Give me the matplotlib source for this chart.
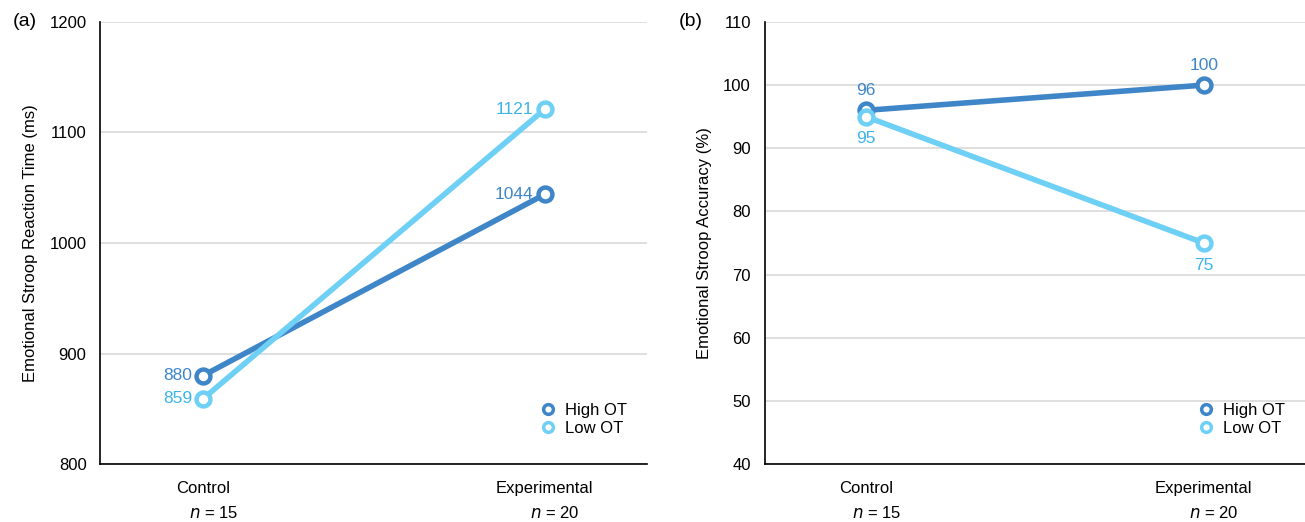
import matplotlib.pyplot as plt

plt.rcParams['font.family'] = ['Liberation Sans', 'DejaVu Sans']
plt.rcParams['font.size'] = 12

groups = ["Control", "Experimental"]
group_n = ["15", "20"]

rt_high = [880, 1044]
rt_low = [859, 1121]
acc_high = [96, 100]
acc_low = [95, 75]

c_high = "#3f86c8"
c_low = "#6fd0f6"

fig = plt.figure(figsize=(13.05, 5.22), dpi=100)
ax1 = fig.add_axes([0.077, 0.111, 0.419, 0.847])
ax2 = fig.add_axes([0.586, 0.111, 0.414, 0.847])


def style(ax, ylo, yhi, step, ylabel, tag):
    ax.set_xlim(-0.3, 1.3)
    ax.set_ylim(ylo, yhi)
    ax.set_yticks(range(ylo, yhi + 1, step))
    ax.set_xticks([0, 1])
    ax.set_xticklabels(groups)
    ax.tick_params(length=0, pad=12)
    ax.tick_params(axis='y', pad=10)
    for s in ["top", "right"]:
        ax.spines[s].set_visible(False)
    for s in ["left", "bottom"]:
        ax.spines[s].set_linewidth(1.2)
    ax.yaxis.grid(True, color="#d9d9d9", linewidth=1.2)
    ax.set_axisbelow(True)
    ax.set_ylabel(ylabel, labelpad=8)
    for i, n in enumerate(group_n):
        ax.text(i + 0.03, -0.11, "$n$ = " + n, transform=ax.get_xaxis_transform(),
                ha="center", va="center")
    ax.text(-0.16, 1.0, tag, transform=ax.transAxes, fontsize=14, ha="left", va="center")


def series(ax, vals, col, label):
    ax.plot([0, 1], vals, color=col, linewidth=4, marker="o", markersize=10,
            markerfacecolor="white", markeredgecolor=col, markeredgewidth=3.2,
            label=label, zorder=3)


series(ax1, rt_high, c_high, "High OT")
series(ax1, rt_low, c_low, "Low OT")
style(ax1, 800, 1200, 100, "Emotional Stroop Reaction Time (ms)", "(a)")
for i in range(2):
    ax1.annotate(str(rt_high[i]), (i, rt_high[i]), xytext=(-8, 0), textcoords="offset points",
                 ha="right", va="center", color=c_high, fontsize=12.5)
    ax1.annotate(str(rt_low[i]), (i, rt_low[i]), xytext=(-8, 0), textcoords="offset points",
                 ha="right", va="center", color="#3cb4ea", fontsize=12.5)

series(ax2, acc_high, c_high, "High OT")
series(ax2, acc_low, c_low, "Low OT")
style(ax2, 40, 110, 10, "Emotional Stroop Accuracy (%)", "(b)")
for i in range(2):
    ax2.annotate(str(acc_high[i]), (i, acc_high[i]), xytext=(0, 14), textcoords="offset points",
                 ha="center", va="center", color=c_high, fontsize=12.5)
    ax2.annotate(str(acc_low[i]), (i, acc_low[i]), xytext=(0, -16), textcoords="offset points",
                 ha="center", va="center", color="#3cb4ea", fontsize=12.5)

for ax in (ax1, ax2):
    h, l = ax.get_legend_handles_labels()
    leg = ax.legend(h, l, loc="lower right", frameon=False, handlelength=0.6,
                    handletextpad=0.7, labelspacing=0.15, bbox_to_anchor=(0.99, 0.03))
    for lh in leg.legend_handles:
        lh.set_linestyle("none")
        lh.set_markersize(7)
        lh.set_markeredgewidth(2.5)

fig.savefig("out.png", dpi=100)
